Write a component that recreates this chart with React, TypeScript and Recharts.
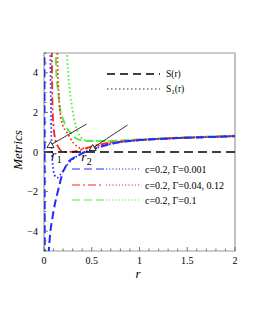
import { LineChart, Line, XAxis, YAxis, ReferenceLine, ReferenceArea, ReferenceDot } from "recharts";

// r values and metric values
const blueSLeftR = [0.004, 0.008];
const blueSLeftV = [6, -6];
const blueSR = [0.047, 0.065, 0.089, 0.115, 0.141, 0.17, 0.194, 0.22, 0.246, 0.3, 0.38, 0.42, 0.5, 0.6, 0.8, 1, 1.25, 1.5, 1.75, 2];
const blueSV = [-5.2, -4.1, -3.3, -2.6, -2.07, -1.5, -1.06, -0.8, -0.56, -0.33, -0.12, -0.02, 0.12, 0.28, 0.5, 0.6, 0.67, 0.72, 0.76, 0.8];
const blueS1R = [0.066, 0.07, 0.075, 0.08, 0.09, 0.1, 0.12, 0.14, 0.17, 0.2, 0.225, 0.26, 0.3, 0.35, 0.4, 0.5, 0.6, 0.8, 1, 1.25, 1.5, 1.75, 2];
const blueS1V = [5.5, 3.2, 1.5, 0.2, -0.6, -0.95, -1.25, -1.3, -1.15, -0.95, -0.76, -0.55, -0.36, -0.2, -0.06, 0.13, 0.28, 0.5, 0.6, 0.67, 0.72, 0.76, 0.8];
const redSR = [0.08, 0.085, 0.09, 0.1, 0.12, 0.15, 0.17, 0.2, 0.25, 0.31, 0.38, 0.48, 0.66, 0.8, 1, 1.25, 1.5, 1.75, 2];
const redSV = [6, 3.5, 2.1, 1.3, 0.6, 0.25, 0.1, 0.02, 0, 0.02, 0.1, 0.25, 0.45, 0.52, 0.6, 0.67, 0.72, 0.76, 0.8];
const redS1R = [0.135, 0.145, 0.16, 0.19, 0.245, 0.31, 0.38, 0.45, 0.55, 0.66, 0.8, 1, 1.25, 1.5, 1.75, 2];
const redS1V = [6, 4, 2.5, 1.45, 0.95, 0.45, 0.2, 0.18, 0.3, 0.44, 0.52, 0.6, 0.67, 0.72, 0.76, 0.8];
const greenSR = [0.115, 0.13, 0.15, 0.17, 0.2, 0.225, 0.28, 0.35, 0.45, 0.6, 0.8, 1, 1.25, 1.5, 1.75, 2];
const greenSV = [6, 4, 3, 2.1, 1.65, 1.35, 0.95, 0.65, 0.55, 0.55, 0.58, 0.63, 0.69, 0.74, 0.78, 0.82];
const greenS1R = [0.235, 0.25, 0.27, 0.3, 0.33, 0.37, 0.43, 0.5, 0.6, 0.8, 1, 1.25, 1.5, 1.75, 2];
const greenS1V = [5.5, 4.2, 3.1, 2.1, 1.35, 0.85, 0.6, 0.55, 0.55, 0.58, 0.63, 0.69, 0.74, 0.78, 0.82];

const xMajor = [0, 0.5, 1, 1.5, 2];
const xTicks = [0, 0.1, 0.2, 0.3, 0.4, 0.5, 0.6, 0.7, 0.8, 0.9, 1, 1.1, 1.2, 1.3, 1.4, 1.5, 1.6, 1.7, 1.8, 1.9, 2];
const yMajor = [-4, -2, 0, 2, 4];
const yTicks = [-5, -4.5, -4, -3.5, -3, -2.5, -2, -1.5, -1, -0.5, 0, 0.5, 1, 1.5, 2, 2.5, 3, 3.5, 4, 4.5, 5];

// annotation arrows (start with triangle, end)
const arrow1 = [{ x: 0.068, y: 0.35 }, { x: 0.445, y: 1.41 }];
const arrow2 = [{ x: 0.51, y: 0.2 }, { x: 0.874, y: 1.36 }];
const rootLabels = [
  { x: 0.075, y: -0.35, sub: "1" },
  { x: 0.39, y: -0.45, sub: "2" },
];

const legendTop = [
  { label: "S", sub: "", dash: "8 5", color: "#000", y: 74 },
  { label: "S", sub: "1", dash: "1.5 2.5", color: "#777", y: 89 },
];
const legendBottom = [
  { label: "c=0.2, Γ=0.001", color: "#1d2dff", dash: "8 4", y: 169 },
  { label: "c=0.2, Γ=0.04, 0.12", color: "#ff2020", dash: "8 3 2 3", y: 185 },
  { label: "c=0.2, Γ=0.1", color: "#55ee44", dash: "8 4", y: 200 },
];

const toData = (rs: number[], vs: number[]) => rs.map((r, i) => ({ r, v: vs[i] }));

const PLOT_LEFT = 44;
const PLOT_BOTTOM = 251;
const FONT = "'Liberation Serif', 'Times New Roman', Times, serif";

const XTick = (props: any) => {
  const { x, payload } = props;
  const major = xMajor.includes(payload.value);
  return (
    <g>
      <line x1={x} x2={x} y1={PLOT_BOTTOM} y2={PLOT_BOTTOM - (major ? 4 : 2.5)} stroke="#555" strokeWidth={0.8} />
      {major && (
        <text x={x} y={PLOT_BOTTOM + 13} textAnchor="middle" fontSize={10} fontFamily={FONT} fill="#000">
          {payload.value}
        </text>
      )}
    </g>
  );
};

const YTick = (props: any) => {
  const { y, payload } = props;
  const major = yMajor.includes(payload.value);
  return (
    <g>
      <line x1={PLOT_LEFT} x2={PLOT_LEFT + (major ? 4 : 2.5)} y1={y} y2={y} stroke="#555" strokeWidth={0.8} />
      {major && (
        <text x={PLOT_LEFT - 6} y={y + 3.5} textAnchor="end" fontSize={10} fontFamily={FONT} fill="#000">
          {payload.value < 0 ? `−${-payload.value}` : payload.value}
        </text>
      )}
    </g>
  );
};

const Triangle = (props: any) => {
  const { cx, cy } = props;
  return <path d={`M${cx - 3.5},${cy + 2.5} L${cx + 3.5},${cy + 2.5} L${cx},${cy - 3.5} Z`} fill="#fff" stroke="#000" strokeWidth={0.8} />;
};

const RootLabel = (sub: string) => (props: any) => {
  const { cx, cy } = props;
  return (
    <g fontFamily={FONT} fill="#000">
      <text x={cx} y={cy} fontSize={13} fontStyle="italic">r</text>
      <text x={cx + 5.5} y={cy + 4} fontSize={10}>{sub}</text>
    </g>
  );
};

export default function App() {
  return (
    <div style={{ position: "relative", width: 255, height: 330, background: "#fff" }}>
      <style>{`body{margin:0} .recharts-wrapper text, svg text{font-family:'Liberation Serif','Times New Roman',serif !important}`}</style>
      <LineChart width={255} height={330} margin={{ top: 53, right: 20, left: 0, bottom: 0 }}>
        <XAxis
          type="number"
          dataKey="r"
          domain={[0, 2]}
          allowDataOverflow
          ticks={xTicks}
          tick={<XTick />}
          tickLine={false}
          axisLine={false}
          height={79}
          interval={0}
        />
        <YAxis
          type="number"
          dataKey="v"
          domain={[-5, 5]}
          allowDataOverflow
          ticks={yTicks}
          tick={<YTick />}
          tickLine={false}
          axisLine={false}
          width={44}
          interval={0}
        />
        <ReferenceArea x1={0} x2={2} y1={-5} y2={5} fill="none" stroke="#999" strokeWidth={1.2} />
        <Line data={toData(blueSLeftR, blueSLeftV)} dataKey="v" type="linear" stroke="#1d2dff" strokeWidth={2} strokeDasharray="8 4" dot={false} isAnimationActive={false} />
        <Line data={toData(greenSR, greenSV)} dataKey="v" type="monotone" stroke="#55ee44" strokeWidth={2} strokeDasharray="8 4" dot={false} isAnimationActive={false} />
        <Line data={toData(greenS1R, greenS1V)} dataKey="v" type="monotone" stroke="#55ee44" strokeWidth={2} strokeDasharray="1.5 2.5" dot={false} isAnimationActive={false} />
        <Line data={toData(redS1R, redS1V)} dataKey="v" type="monotone" stroke="#ff2020" strokeWidth={1.8} strokeDasharray="1.5 2.5" dot={false} isAnimationActive={false} />
        <Line data={toData(redSR, redSV)} dataKey="v" type="monotone" stroke="#ff2020" strokeWidth={1.8} strokeDasharray="8 3 2 3" dot={false} isAnimationActive={false} />
        <Line data={toData(blueS1R, blueS1V)} dataKey="v" type="monotone" stroke="#1d2dff" strokeWidth={1.8} strokeDasharray="1.5 2.5" dot={false} isAnimationActive={false} />
        <Line data={toData(blueSR, blueSV)} dataKey="v" type="monotone" stroke="#1d2dff" strokeWidth={2} strokeDasharray="8 4" dot={false} isAnimationActive={false} />
        <ReferenceLine y={0} stroke="#000" strokeWidth={1.6} strokeDasharray="9 5" />
        <ReferenceLine segment={arrow1} stroke="#000" strokeWidth={0.8} />
        <ReferenceLine segment={arrow2} stroke="#000" strokeWidth={0.8} />
        <ReferenceDot x={arrow1[0].x} y={arrow1[0].y} r={3} shape={<Triangle />} />
        <ReferenceDot x={arrow2[0].x} y={arrow2[0].y} r={3} shape={<Triangle />} />
        {rootLabels.map((l) => (
          <ReferenceDot key={l.sub} x={l.x} y={l.y} r={1} shape={RootLabel(l.sub)} />
        ))}
      </LineChart>
      <svg width={255} height={330} style={{ position: "absolute", left: 0, top: 0, pointerEvents: "none" }} fontFamily={FONT}>
        {legendTop.map((l) => (
          <g key={l.y}>
            <line x1={107} x2={160} y1={l.y} y2={l.y} stroke={l.color} strokeWidth={1.3} strokeDasharray={l.dash} />
            <text x={166} y={l.y + 3} fontSize={9.5} fill="#000">
              {l.label}
              {l.sub && <tspan fontSize={7} dy={2}>{l.sub}</tspan>}
              <tspan dy={l.sub ? -2 : 0}>(r)</tspan>
            </text>
          </g>
        ))}
        {legendBottom.map((l) => (
          <g key={l.y}>
            <line x1={72} x2={104} y1={l.y} y2={l.y} stroke={l.color} strokeWidth={1.2} strokeDasharray={l.dash} />
            <line x1={106} x2={140} y1={l.y} y2={l.y} stroke={l.color} strokeWidth={1.2} strokeDasharray="1.2 2" />
            <text x={145} y={l.y + 3.5} fontSize={10} fill="#000">{l.label}</text>
          </g>
        ))}
        <text x={138} y={278} fontSize={13} fontStyle="italic" textAnchor="middle" fill="#000">r</text>
        <text x={0} y={0} fontSize={13} fontStyle="italic" textAnchor="middle" fill="#000" transform="translate(22,150) rotate(-90)">Metrics</text>
      </svg>
    </div>
  );
}
